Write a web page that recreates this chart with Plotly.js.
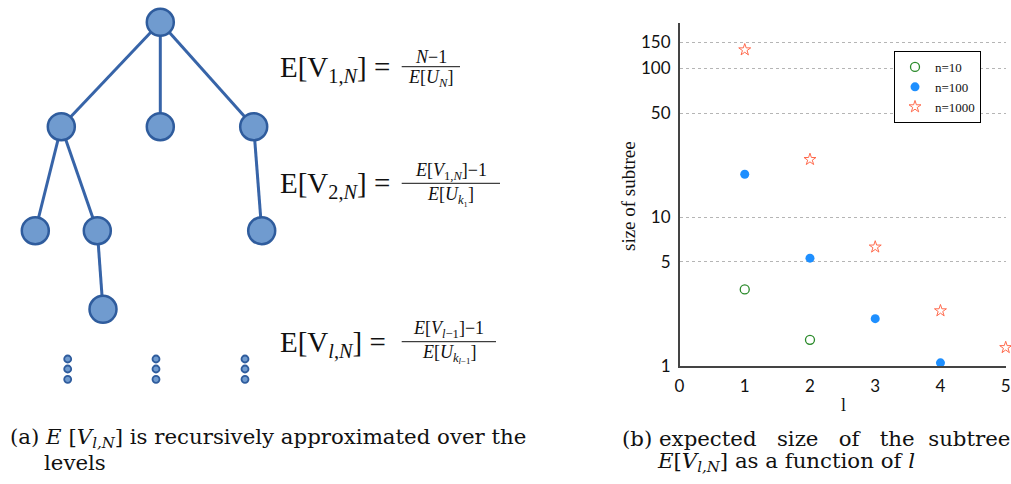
<!DOCTYPE html>
<html><head><meta charset="utf-8">
<script src="https://cdn.plot.ly/plotly-3.0.1.min.js"></script>
<style>html,body{margin:0;padding:0;background:#fff}#chart{width:1011px;height:484px}</style>
</head><body><div id="chart"></div>
<script>
// ---- chart (b) data ----
const levels = [1, 2, 3, 4, 5];
const n10 = [3.27, 1.50];
const n100 = [19.4, 5.3, 2.08, 1.05];
const n1000 = [133, 24.4, 6.3, 2.35, 1.33];
const seriesNames = ['n=10', 'n=100', 'n=1000'];
const yTicks = [1, 5, 10, 50, 100, 150];
const xTicks = [0, 1, 2, 3, 4, 5];

// ---- diagram (a) data (pixel layout of the tree) ----
const nodeX = [160.3, 61.3, 160.3, 253.7, 35.3, 97.3, 261.7, 103];
const nodeY = [22.3, 126.7, 126.7, 126.7, 230.7, 230.7, 230.7, 309.3];
const edges = [[0,1],[0,2],[0,3],[1,4],[1,5],[5,7],[3,6]];
const dotX = [67.7, 67.7, 67.7, 156, 156, 156, 245, 245, 245];
const dotY = [359, 369, 379.3, 359, 369, 379.3, 359, 369, 379.3];

const serif = 'Liberation Serif, DejaVu Serif, serif';
const wideSerif = 'DejaVu Serif, Liberation Serif, serif';
const W = 1011, H = 484;

const ex = [], ey = [];
edges.forEach(([a,b]) => { ex.push(nodeX[a], nodeX[b], null); ey.push(nodeY[a], nodeY[b], null); });

const nodeFill = 'rgb(112,155,207)', nodeLine = 'rgb(47,92,157)', edgeCol = 'rgb(55,100,168)';

const traces = [
  {x: levels.slice(0, n10.length), y: n10, name: seriesNames[0], mode: 'markers', type: 'scatter', cliponaxis: false,
   marker: {symbol: 'circle-open', size: 9, color: '#2a8a2a', line: {width: 1.3}}},
  {x: levels.slice(0, n100.length), y: n100, name: seriesNames[1], mode: 'markers', type: 'scatter', cliponaxis: false,
   marker: {symbol: 'circle', size: 9, color: '#1e8fff'}},
  {x: levels.slice(0, n1000.length), y: n1000, name: seriesNames[2], mode: 'markers', type: 'scatter', cliponaxis: false,
   marker: {symbol: 'star-open', size: 9, color: '#ff6a4d', line: {width: 1}}},
  {x: ex, y: ey, xaxis: 'x2', yaxis: 'y2', mode: 'lines', showlegend: false, hoverinfo: 'skip',
   line: {color: edgeCol, width: 3}},
  {x: nodeX, y: nodeY, xaxis: 'x2', yaxis: 'y2', mode: 'markers', showlegend: false, hoverinfo: 'skip',
   marker: {size: 27, color: nodeFill, line: {color: nodeLine, width: 2.5}}},
  {x: dotX, y: dotY, xaxis: 'x2', yaxis: 'y2', mode: 'markers', showlegend: false, hoverinfo: 'skip',
   marker: {size: 7, color: nodeFill, line: {color: nodeLine, width: 1.8}}}
];

// formulas
const formulaLeft = ['E[V<sub>1,<i>N</i></sub>] =', 'E[V<sub>2,<i>N</i></sub>] =', 'E[V<sub><i>l</i>,<i>N</i></sub>] ='];
const formulaNum = ['<i>N</i>−1', '<i>E</i>[<i>V</i><sub>1,<i>N</i></sub>]−1', '<i>E</i>[<i>V</i><sub><i>l</i>−1</sub>]−1'];
const formulaDen = ['<i>E</i>[<i>U<sub>N</sub></i>]', '<i>E</i>[<i>U</i><sub><i>k</i>₁</sub>]', '<i>E</i>[<i>U</i><sub><i>k</i><sub><i>l</i>−1</sub></sub>]'];
const fy = [66.7, 183.3, 341.7];
const barX0 = [401.7, 401.7, 401.7], barX1 = [460, 500, 496];

const ann = [];
const shapes = [];
for (let i = 0; i < 3; i++) {
  ann.push({xref: 'x2', yref: 'y2', x: 278, y: fy[i] + 2, xanchor: 'left', yanchor: 'middle', showarrow: false,
            text: formulaLeft[i], font: {family: serif, size: 29, color: '#111'}});
  const cx = (barX0[i] + barX1[i]) / 2;
  ann.push({xref: 'x2', yref: 'y2', x: cx, y: fy[i] - (i === 0 ? 10 : 12), xanchor: 'center', yanchor: 'middle', showarrow: false,
            text: formulaNum[i], font: {family: serif, size: 18, color: '#111'}});
  ann.push({xref: 'x2', yref: 'y2', x: cx, y: fy[i] + 12, xanchor: 'center', yanchor: 'middle', showarrow: false,
            text: formulaDen[i], font: {family: serif, size: 18, color: '#111'}});
  shapes.push({type: 'line', xref: 'x2', yref: 'y2', x0: barX0[i], x1: barX1[i], y0: fy[i], y1: fy[i],
               line: {color: '#111', width: 1}});
}
// captions
const captions = [
  ['(a) <i>E</i> [<i>V</i><sub><i>l,N</i></sub>] is recursively approximated over the', 8, 438],
  ['levels', 42, 462],
  ['(b) expected&nbsp;&nbsp; size&nbsp;&nbsp; of&nbsp;&nbsp; the&nbsp; subtree', 620, 438],
  ['<i>E</i>[<i>V</i><sub><i>l,N</i></sub>] as a function of <i>l</i>', 655, 462]
];
captions.forEach(c => ann.push({xref: 'x2', yref: 'y2', x: c[1], y: c[2], xanchor: 'left', yanchor: 'middle',
  showarrow: false, text: c[0], font: {family: wideSerif, size: 21.3, color: '#111'}}));
// axis titles
ann.push({xref: 'x2', yref: 'y2', x: 628, y: 196, textangle: -90, showarrow: false, xanchor: 'center', yanchor: 'middle',
  text: 'size of subtree', font: {family: serif, size: 19, color: '#111'}});
ann.push({xref: 'x2', yref: 'y2', x: 843, y: 405, showarrow: false, xanchor: 'center', yanchor: 'middle',
  text: 'l', font: {family: serif, size: 18, color: '#111'}});

const tickFont = {family: 'Lato, DejaVu Sans, sans-serif', size: 17, color: '#111'};
const layout = {
  width: W, height: H, margin: {l: 0, r: 0, t: 0, b: 0},
  paper_bgcolor: '#fff', plot_bgcolor: 'rgba(0,0,0,0)',
  showlegend: true,
  legend: {x: 894/W, y: 1 - 51/H, xanchor: 'left', yanchor: 'top', bordercolor: '#000', borderwidth: 1,
           bgcolor: '#fff', font: {family: serif, size: 13, color: '#111'}, itemwidth: 30, tracegroupgap: 0},
  xaxis: {domain: [679.5/W, 1005.7/W], range: [0, 5], tickvals: xTicks, ticktext: xTicks.map(String),
          showgrid: false, zeroline: false, showline: true, linecolor: '#444', linewidth: 1.5, ticks: '',
          ticklabelstandoff: 4, tickfont: tickFont, fixedrange: true},
  yaxis: {domain: [1 - 366/H, 1 - 23/H], type: 'log', range: [0, 2.304], tickvals: yTicks, ticktext: yTicks.map(String),
          showgrid: true, gridcolor: '#b5b5b5', griddash: 'dot', gridwidth: 1, zeroline: false,
          showline: true, linecolor: '#444', linewidth: 1.5, ticks: '', ticklabelstandoff: 4,
          tickfont: tickFont, fixedrange: true},
  xaxis2: {domain: [0, 1], range: [0, W], visible: false, fixedrange: true},
  yaxis2: {domain: [0, 1], range: [H, 0], visible: false, fixedrange: true},
  annotations: ann, shapes: shapes
};
Plotly.newPlot('chart', traces, layout, {displayModeBar: false, staticPlot: true});
</script></body></html>
